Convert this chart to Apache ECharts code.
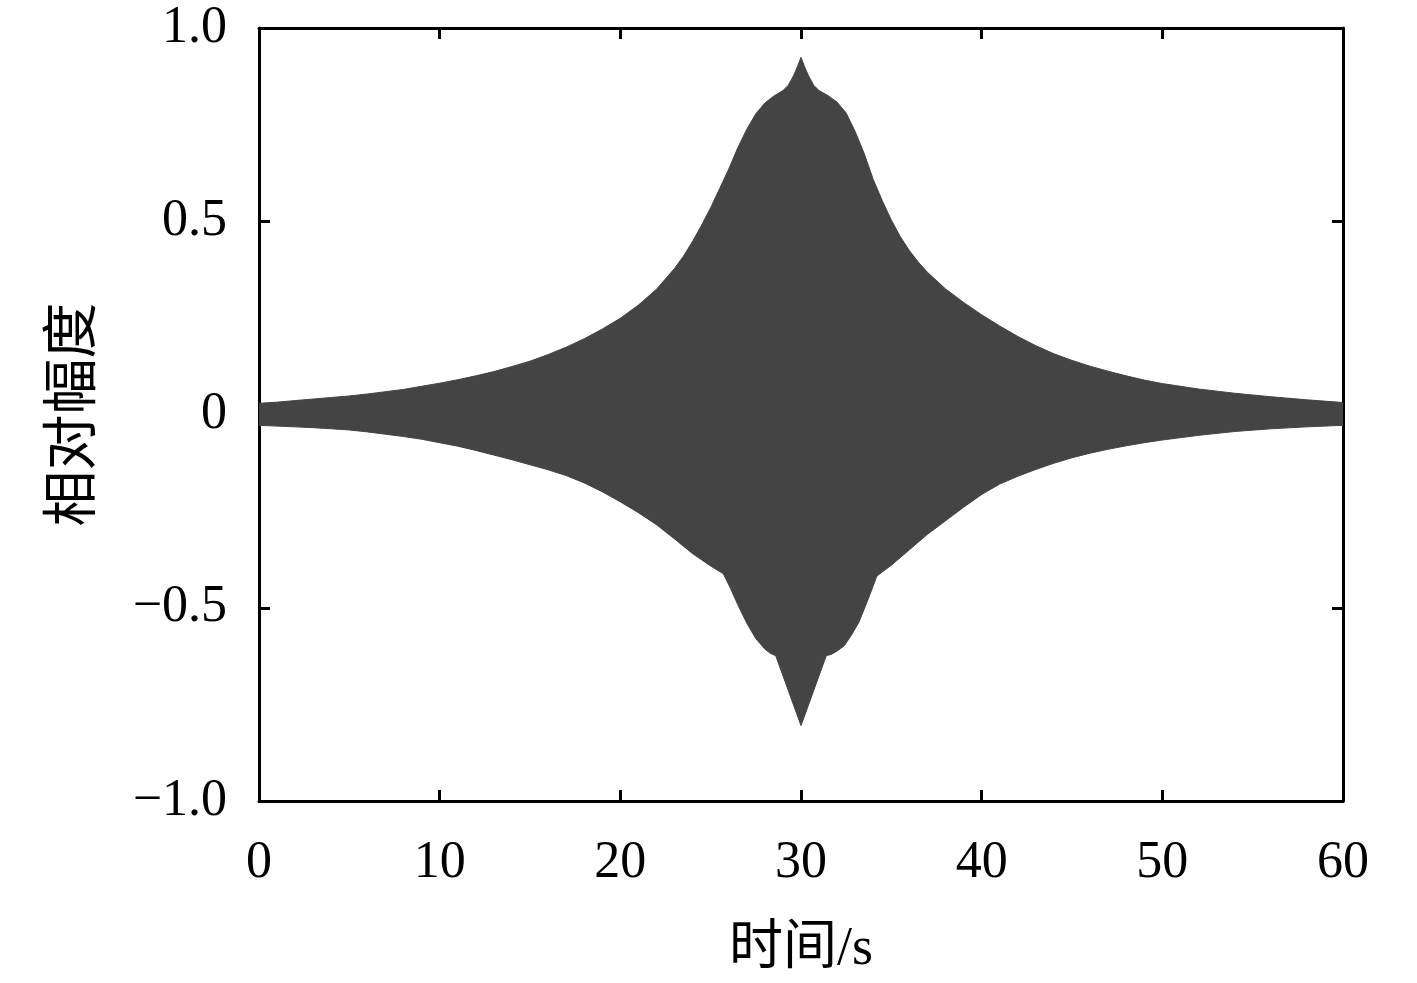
<!DOCTYPE html>
<html>
<head>
<meta charset="utf-8">
<title>相对幅度</title>
<script src="https://cdn.jsdelivr.net/npm/echarts@6/dist/echarts.min.js"></script>
<style>
	html, body { margin: 0; padding: 0; background: #fff; }
	#main { width: 1417px; height: 983px; }
</style>
</head>
<body>
<div id="main"></div>
<script>
	// 上包络 (时间 s, 幅度)
	var upperTime = [0, 1, 2, 3, 4, 5, 6, 7, 8, 9, 10, 11, 12, 13, 14, 15, 16, 17, 18, 19, 20, 21, 22, 23, 23.5, 24, 24.5, 25, 25.5, 26, 26.5, 27, 27.5, 28, 28.5, 29, 29.3, 29.6, 29.8, 30, 30.2, 30.4, 30.7, 31, 31.5, 32, 32.5, 33, 33.5, 34, 34.5, 35, 35.5, 36, 36.5, 37, 38, 39, 40, 41, 42, 43, 44, 45, 46, 47, 48, 49, 50, 52, 54, 56, 58, 60];
	var upperValue = [0.029, 0.032, 0.036, 0.040, 0.044, 0.048, 0.053, 0.059, 0.065, 0.073, 0.081, 0.090, 0.100, 0.111, 0.124, 0.138, 0.155, 0.174, 0.196, 0.221, 0.249, 0.283, 0.324, 0.378, 0.410, 0.448, 0.490, 0.535, 0.585, 0.635, 0.690, 0.738, 0.778, 0.806, 0.824, 0.838, 0.852, 0.878, 0.900, 0.924, 0.900, 0.878, 0.852, 0.838, 0.825, 0.808, 0.780, 0.732, 0.675, 0.608, 0.553, 0.503, 0.460, 0.424, 0.394, 0.368, 0.325, 0.290, 0.258, 0.229, 0.202, 0.178, 0.157, 0.140, 0.125, 0.112, 0.100, 0.089, 0.080, 0.066, 0.055, 0.046, 0.038, 0.031];

	// 下包络
	var lowerTime = [0, 1, 2, 3, 4, 5, 6, 7, 8, 9, 10, 11, 12, 13, 14, 15, 16, 17, 18, 19, 20, 21, 22, 23, 24, 25, 25.7, 26.1, 26.5, 27, 27.5, 28, 28.3, 28.6, 30, 31.4, 31.7, 32, 32.4, 32.8, 33.2, 33.7, 34.2, 35, 36, 37, 38, 39, 40, 41, 42, 43, 44, 45, 46, 47, 48, 49, 50, 52, 54, 56, 58, 60];
	var lowerValue = [-0.028, -0.030, -0.032, -0.034, -0.037, -0.040, -0.045, -0.051, -0.057, -0.064, -0.073, -0.082, -0.093, -0.105, -0.117, -0.130, -0.143, -0.158, -0.177, -0.200, -0.226, -0.254, -0.285, -0.322, -0.360, -0.392, -0.412, -0.450, -0.492, -0.540, -0.580, -0.607, -0.618, -0.624, -0.805, -0.624, -0.620, -0.612, -0.598, -0.570, -0.538, -0.480, -0.418, -0.390, -0.350, -0.310, -0.275, -0.240, -0.207, -0.180, -0.160, -0.142, -0.126, -0.112, -0.100, -0.090, -0.081, -0.073, -0.066, -0.054, -0.044, -0.037, -0.032, -0.028];

	var xTicks = [0, 10, 20, 30, 40, 50, 60];
	var yTicks = [-1.0, -0.5, 0, 0.5, 1.0];

	function pairs(xs, ys) {
		var out = [];
		for (var i = 0; i < xs.length; i++) {
			out.push([xs[i], ys[i]]);
		}
		return out;
	}

	//y轴刻度: 0 不带小数, 负号用 "−"
	function yLabel(v) {
		if (v === 0) return '0';
		return (v < 0 ? '\u2212' : '') + Math.abs(v).toFixed(1);
	}

	var fill = '#444444';
	var numFont = 'Liberation Serif, Noto Sans CJK SC';
	var lineBlack = { color: '#000', width: 3 };
	var tickStyle = { inside: true, length: 11, lineStyle: { color: '#000', width: 3 } };

	var option = {
		backgroundColor: '#fff',
		animation: false,
		grid: { left: 259, right: 74, top: 28, bottom: 182, containLabel: false },
		xAxis: [{
			type: 'value',
			min: xTicks[0],
			max: xTicks[xTicks.length - 1],
			interval: 10,
			name: '时间/s',
			nameLocation: 'middle',
			nameGap: 122,
			nameTextStyle: { fontSize: 54, color: '#000', fontFamily: numFont },
			axisLine: { show: true, onZero: false, lineStyle: lineBlack },
			axisTick: tickStyle,
			axisLabel: { fontSize: 52, color: '#000', fontFamily: numFont, margin: 36 },
			splitLine: { show: false }
		}, {
			//上边框
			type: 'value',
			position: 'top',
			min: 0,
			max: 60,
			interval: 10,
			axisLine: { show: true, onZero: false, lineStyle: lineBlack },
			axisTick: tickStyle,
			axisLabel: { show: false },
			splitLine: { show: false }
		}],
		yAxis: [{
			type: 'value',
			min: yTicks[0],
			max: yTicks[yTicks.length - 1],
			interval: 0.5,
			name: '相对幅度',
			nameLocation: 'middle',
			nameRotate: 90,
			nameGap: 156,
			nameTextStyle: { fontSize: 56, color: '#000', fontFamily: numFont },
			axisLine: { show: true, onZero: false, lineStyle: lineBlack },
			axisTick: tickStyle,
			axisLabel: { fontSize: 52, color: '#000', fontFamily: numFont, margin: 32, formatter: yLabel },
			splitLine: { show: false }
		}, {
			//右边框
			type: 'value',
			position: 'right',
			min: -1,
			max: 1,
			interval: 0.5,
			axisLine: { show: true, onZero: false, lineStyle: lineBlack },
			axisTick: tickStyle,
			axisLabel: { show: false },
			splitLine: { show: false }
		}],
		series: [{
			name: 'upper',
			type: 'line',
			data: pairs(upperTime, upperValue),
			symbol: 'none',
			lineStyle: { color: fill, width: 1 },
			areaStyle: { color: fill, opacity: 1 },
			markLine: {
				silent: true,
				symbol: 'none',
				label: { show: false },
				lineStyle: { color: fill, width: 3, type: 'solid' },
				data: [[{ coord: [0, 0] }, { coord: [60, 0] }]]
			}
		}, {
			name: 'lower',
			type: 'line',
			data: pairs(lowerTime, lowerValue),
			symbol: 'none',
			lineStyle: { color: fill, width: 1 },
			areaStyle: { color: fill, opacity: 1 }
		}]
	};

	echarts.init(document.getElementById('main')).setOption(option);
</script>
</body>
</html>
